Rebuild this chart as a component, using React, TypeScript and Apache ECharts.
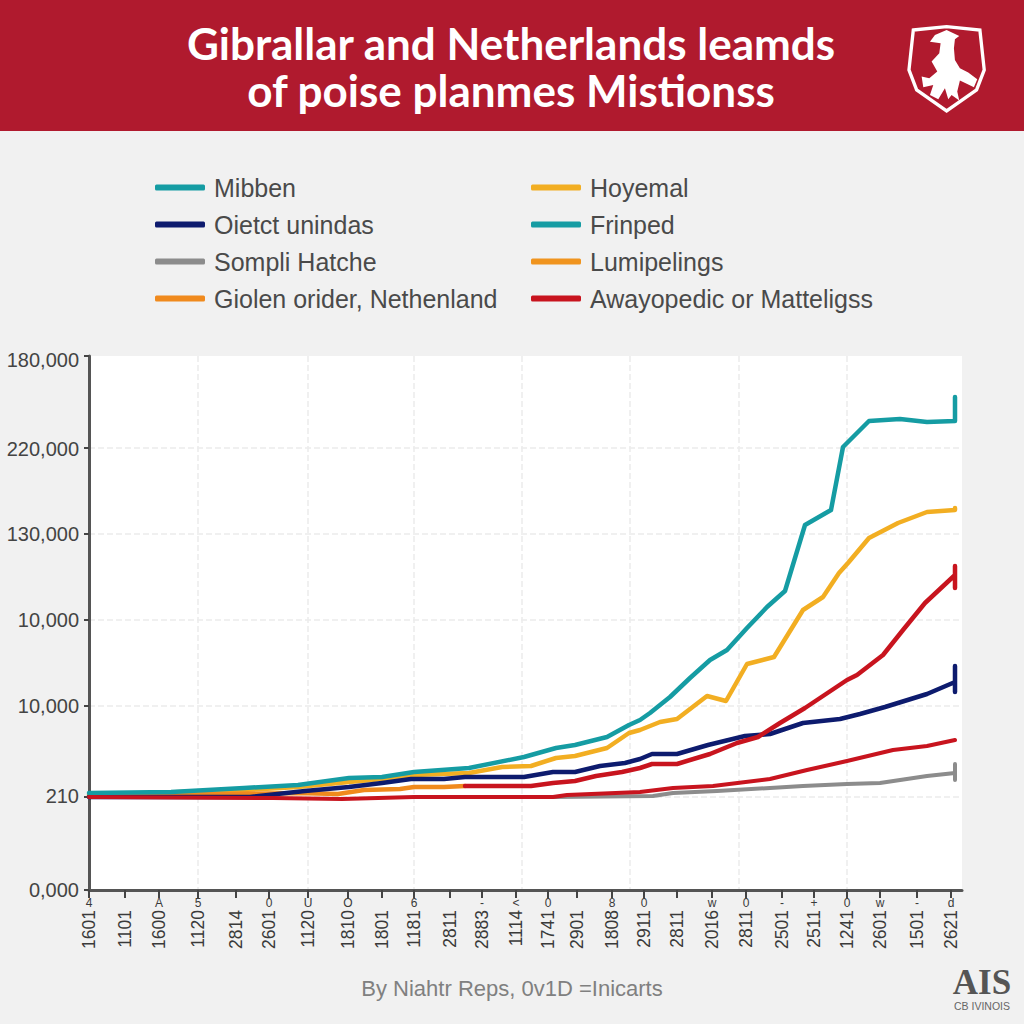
import React, { useEffect, useRef } from "react";
import * as echarts from "echarts";

const titleText = "Gibrallar and Netherlands leamds\nof poise planmes Mistionss";
const footerText = "By Niahtr Reps, 0v1D =Inicarts";

const legendLeft = ["Mibben", "Oietct unindas", "Sompli Hatche", "Giolen orider, Nethenland"];
const legendRight = ["Hoyemal", "Frinped", "Lumipelings", "Awayopedic or Matteligss"];

const yTickValues = [0, 93, 184, 270, 356, 442, 534];
const yLabelValues = [0, 94, 184, 270, 356, 441, 530];
const yTickLabels = ["0,000", "210", "10,000", "10,000", "130,000", "220,000", "180,000"];

const xTickValues = [0, 36, 70, 109, 147, 180, 219, 259, 293, 325, 361, 393, 427, 459, 488, 523, 555, 588, 623, 657, 693, 725, 758, 791, 828, 862];
const xTickLabels = ["1601", "1101", "1600", "1120", "2814", "2601", "1120", "1810", "1801", "1181", "2811", "2883", "1114", "1741", "2901", "1808", "2911", "2811", "2016", "2811", "2501", "2511", "1241", "2601", "1501", "2621"];
const xTickMarks = ["4", "", "A", "5", "", "0", "U", "O", "", "6", "", "-", "<", "0", "", "8", "0", "", "w", "0", "-", "+", "0", "w", "-", "d"];
const xGridValues = [109, 219, 325, 433, 541, 650, 758];

const mibben = [[0, 97], [82, 98], [155, 102], [209, 105], [260, 112], [293, 113], [325, 118], [380, 122], [435, 133], [467, 142], [486, 145], [518, 153], [540, 165], [551, 170], [561, 177], [581, 193], [601, 212], [621, 230], [638, 240], [658, 262], [678, 283], [696, 299], [716, 365], [742, 380], [754, 443], [780, 469], [811, 471], [838, 468], [866, 469], [866, 493]];
const hoyemal = [[0, 95], [155, 100], [209, 103], [260, 108], [293, 111], [325, 115], [380, 117], [413, 123], [442, 124], [467, 132], [486, 134], [518, 142], [540, 157], [551, 160], [571, 168], [588, 171], [618, 194], [637, 189], [658, 226], [685, 233], [714, 280], [734, 293], [750, 317], [759, 327], [780, 352], [809, 367], [838, 378], [866, 380], [866, 382]];
const oietct = [[0, 93], [161, 93], [216, 99], [260, 103], [293, 107], [322, 111], [355, 111], [376, 113], [435, 113], [464, 118], [486, 118], [511, 124], [536, 127], [551, 131], [563, 136], [588, 136], [619, 145], [656, 154], [681, 156], [714, 167], [751, 171], [771, 176], [796, 183], [838, 196], [866, 208], [866, 224], [866, 198]];
const giolen = [[0, 94], [209, 97], [249, 96], [275, 100], [311, 101], [325, 103], [355, 103], [376, 104]];
const awayopedic = [[376, 104], [442, 104], [464, 107], [486, 109], [507, 114], [533, 118], [551, 122], [563, 126], [588, 126], [621, 136], [648, 147], [669, 153], [691, 167], [716, 182], [758, 210], [768, 215], [794, 235], [814, 260], [836, 287], [866, 315], [866, 324], [866, 302]];
const awayopedicLower = [[0, 93], [184, 92], [253, 91], [325, 93], [464, 93], [478, 95], [551, 98], [584, 102], [624, 104], [681, 111], [718, 120], [758, 129], [804, 140], [838, 144], [866, 150]];
const sompli = [[464, 93], [564, 94], [584, 97], [628, 99], [681, 102], [714, 104], [758, 106], [791, 107], [838, 114], [866, 117], [866, 126], [866, 110]];

const shieldPoints = [[100, 60], [200, 50], [300, 60], [313, 180], [290, 240], [200, 303], [110, 240], [87, 180]];
const crestPoints = [[200, 60], [238, 78], [225, 88], [222, 115], [225, 150], [240, 175], [265, 188], [292, 208], [282, 232], [262, 222], [240, 212], [232, 245], [238, 272], [215, 255], [205, 268], [195, 235], [175, 268], [150, 255], [160, 225], [130, 232], [125, 200], [148, 205], [172, 185], [155, 155], [178, 130], [182, 100], [150, 95], [165, 75]];

const FONT = "Liberation Sans";
const TEAL = "#159CA3";

function line(name: string, data: number[][], color: string, width = 4.5) {
  return {
    name, type: "line", data, symbol: "none", smooth: false, clip: false,
    itemStyle: { color },
    lineStyle: { color, width, join: "round", cap: "round" },
  };
}

function legend(names: string[], left: number) {
  return {
    data: names, left, top: 175, orient: "vertical", icon: "roundRect",
    itemWidth: 50, itemHeight: 6, itemGap: 12, padding: 0, selectedMode: false,
    textStyle: { fontFamily: FONT, fontSize: 25, color: "#4a4a4a", padding: [0, 0, 0, 4] },
  };
}

export default function App() {
  const ref = useRef<HTMLDivElement>(null);
  useEffect(() => {
    const chart = echarts.init(ref.current!, null, { renderer: "svg" });
    const hiddenX = { type: "value", min: 0, max: 873, position: "bottom", splitLine: { show: false } };
    chart.setOption({
      animation: false,
      backgroundColor: "#F1F1F1",
      title: {
        text: titleText, left: 506, top: 14, textAlign: "center",
        textStyle: { fontFamily: "Lato", fontSize: 44, fontWeight: "bold", color: "#fff", lineHeight: 47 },
      },
      legend: [legend(legendLeft, 155), legend(legendRight, 531)],
      grid: { left: 89, right: 62, top: 356, bottom: 134, show: true, backgroundColor: "#fff", borderWidth: 0 },
      xAxis: [
        {
          ...hiddenX,
          axisLine: { show: true, onZero: false, lineStyle: { color: "#555", width: 3 } },
          axisTick: { show: true, length: 8, customValues: xTickValues, lineStyle: { color: "#444", width: 2 } },
          axisLabel: {
            show: true, customValues: xTickValues, rotate: 90, margin: 20, hideOverlap: false,
            fontFamily: FONT, fontSize: 17.5, color: "#3a3a3a",
            formatter: (v: number) => xTickLabels[xTickValues.indexOf(v)] ?? "",
          },
        },
        {
          ...hiddenX,
          axisLine: { show: false }, axisTick: { show: false },
          axisLabel: {
            show: true, customValues: xTickValues, margin: 7, hideOverlap: false,
            fontFamily: FONT, fontSize: 12, color: "#3a3a3a",
            formatter: (v: number) => xTickMarks[xTickValues.indexOf(v)] ?? "",
          },
        },
        {
          ...hiddenX,
          axisLine: { show: false },
          axisTick: { show: false, customValues: xGridValues },
          axisLabel: { show: false },
          splitLine: { show: true, showMinLine: true, showMaxLine: true, lineStyle: { color: "#ececec", type: "dashed", width: 1.5 } },
        },
      ],
      yAxis: {
        type: "value", min: 0, max: 534,
        axisLine: { show: true, lineStyle: { color: "#555", width: 3 } },
        axisTick: { show: true, length: 5, customValues: yTickValues, lineStyle: { color: "#444", width: 2 } },
        axisLabel: {
          show: true, customValues: yLabelValues, margin: 10, fontFamily: FONT, fontSize: 20, color: "#444",
          formatter: (v: number) => yTickLabels[yLabelValues.indexOf(v)] ?? "",
        },
        splitLine: { show: true, showMinLine: false, showMaxLine: false, lineStyle: { color: "#ececec", type: "dashed", width: 1.5 } },
      },
      series: [
        line("Frinped", [], TEAL),
        line("Lumipelings", [], "#F0941E"),
        line("Hoyemal", hoyemal, "#F2AE22"),
        line("Giolen orider, Nethenland", giolen, "#F08A1D"),
        line("Oietct unindas", oietct, "#0D1B6E"),
        line("Sompli Hatche", sompli, "#8C8C8C", 4),
        line("Mibben", mibben, TEAL),
        line("Awayopedic or Matteligss", awayopedic, "#C8141E"),
        line("Awayopedic lower", awayopedicLower, "#C8141E", 4),
      ],
      graphic: [
        { type: "rect", z: -1, silent: true, shape: { x: 0, y: 0, width: 1024, height: 131 }, style: { fill: "#B01A2E" } },
        {
          type: "group", x: 880, y: 10, scaleX: 1 / 3, scaleY: 1 / 3,
          children: [
            { type: "polygon", shape: { points: shieldPoints }, style: { fill: "none", stroke: "#fff", lineWidth: 10 } },
            { type: "polygon", shape: { points: crestPoints }, style: { fill: "#fff" } },
          ],
        },
        { type: "text", x: 512, y: 988, style: { text: footerText, fontFamily: FONT, fontSize: 22, fill: "#808080", align: "center", verticalAlign: "middle" } },
        { type: "text", x: 982, y: 982, style: { text: "AIS", fontFamily: "Liberation Serif", fontWeight: "bold", fontSize: 35, fill: "#555", align: "center", verticalAlign: "middle" } },
        { type: "text", x: 982, y: 1006, style: { text: "CB IVINOIS", fontFamily: FONT, fontSize: 10.5, fill: "#666", align: "center", verticalAlign: "middle" } },
      ],
    });
    return () => chart.dispose();
  }, []);
  return <div ref={ref} style={{ position: "fixed", left: 0, top: 0, width: 1024, height: 1024 }} />;
}
